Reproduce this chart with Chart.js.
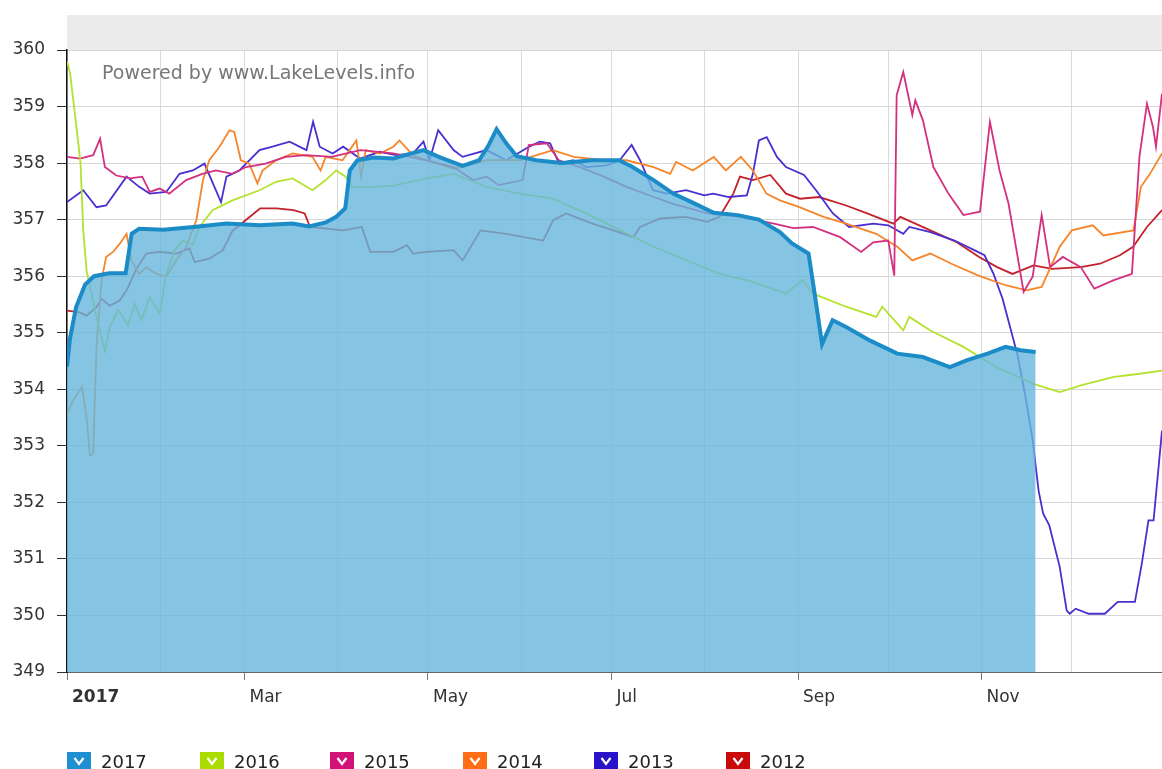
<!DOCTYPE html>
<html>
<head>
<meta charset="utf-8">
<title>Lake level</title>
<script src="https://cdn.jsdelivr.net/npm/chart.js@4/dist/chart.umd.min.js"></script>
<style>
  html, body { margin: 0; padding: 0; background: #fff; }
  #wrap { position: relative; width: 1162px; height: 769px; overflow: hidden; }
  #legend { position: absolute; left: 0; top: 752px; width: 1162px; height: 24px; }
  .item { position: absolute; top: 0; height: 24px; display: flex; align-items: center;
          font: 18px "DejaVu Sans", Verdana, sans-serif; color: #222; }
  .item span { position: relative; top: -3px; }
  .box { width: 24px; height: 24px; margin-right: 10px; display: flex;
         align-items: flex-start; justify-content: center; }
  .box svg { margin-top: 4px; }
</style>
</head>
<body>
<div id="wrap">
  <canvas id="levels" width="1162" height="769"></canvas>
  <div id="legend"></div>
</div>
<script>
// x values are day of year (0 = Jan 1), y values are lake level in feet
const monthStarts = [0, 31, 59, 90, 120, 151, 181, 212, 243, 273, 304, 334];
const monthLabels = ['2017', '', 'Mar', '', 'May', '', 'Jul', '', 'Sep', '', 'Nov', ''];
const yTicks = [349, 350, 351, 352, 353, 354, 355, 356, 357, 358, 359, 360];

const years = ['2017', '2016', '2015', '2014', '2013', '2012'];
const colors = ['#1b8cc8', '#b4e22e', '#d3307f', '#f7852a', '#4a2fd0', '#c4222b'];
const legendColors = ['#1e90d2', '#aadc00', '#d21478', '#ff6e14', '#2814c8', '#c80a0a'];
const legendLeft = [67, 200, 330, 463, 594, 726];

const days2017 = [0, 1, 3, 6, 9, 14, 19.5, 21.5, 24, 32, 42, 53, 64, 75, 80.5, 86, 89.5, 92.5, 94, 96.5,
  102, 108.5, 113, 118.5, 124, 131.5, 137, 140, 142.8, 146, 149.5, 156, 164.5, 174.5, 183.5, 188, 195,
  201.5, 208, 215, 223, 230, 237, 241, 246.5, 248.5, 251, 254.5, 259, 267, 276, 284.5, 293.5, 299,
  306, 312, 317, 322];
const lvl2017 = [354.4, 354.9, 355.45, 355.85, 356.0, 356.05, 356.05, 356.75, 356.84, 356.82, 356.87,
  356.93, 356.9, 356.93, 356.88, 356.95, 357.05, 357.2, 357.87, 358.05, 358.1, 358.08, 358.15, 358.23,
  358.1, 357.95, 358.05, 358.3, 358.6, 358.35, 358.12, 358.05, 358.0, 358.05, 358.05, 357.93, 357.7,
  357.46, 357.3, 357.12, 357.08, 357.0, 356.78, 356.58, 356.4, 355.7, 354.8, 355.22, 355.1, 354.86,
  354.63, 354.57, 354.39, 354.51, 354.63, 354.75, 354.69, 354.66];

const days2016 = [0, 1, 3, 4.5, 5.4, 6.5, 8.2, 9.8, 12.6, 14.2, 17, 20.3, 22.5, 24.7, 27.5, 30.8, 33,
  35.8, 38.5, 41.8, 44, 48.5, 55, 64, 69.5, 75, 81.6, 86, 89.5, 92.6, 94.8, 102.5, 108.5, 119.5,
  128.5, 139.5, 150.5, 161.5, 172.5, 184, 195, 206, 217, 228, 239, 244.5, 248, 259, 269, 271, 278,
  280, 287, 298, 309, 321, 330, 337, 348, 356, 364];
const lvl2016 = [359.8, 359.6, 358.7, 358.0, 356.81, 356.1, 355.69, 355.28, 354.68, 355.1, 355.4,
  355.13, 355.51, 355.22, 355.63, 355.34, 356.04, 356.46, 356.63, 356.55, 356.87, 357.17, 357.34,
  357.52, 357.67, 357.73, 357.52, 357.7, 357.87, 357.76, 357.58, 357.58, 357.6, 357.73, 357.81,
  357.58, 357.46, 357.37, 357.11, 356.81, 356.52, 356.28, 356.04, 355.9, 355.69, 355.93, 355.69,
  355.46, 355.28, 355.46, 355.04, 355.28, 355.04, 354.75, 354.39, 354.1, 353.95, 354.07, 354.22,
  354.27, 354.33];

const days2015 = [0, 4.3, 8.7, 11, 12.6, 16.4, 21, 25, 27.5, 30.8, 34, 39.6, 45, 49.5, 55, 59.5, 66,
  72.7, 79.4, 88, 97.5, 108.5, 119.5, 128.5, 135, 139.5, 143.5, 151.5, 153.5, 159.5, 163.5, 170.5,
  178.5, 186, 195, 201.5, 213, 224, 235, 241.5, 248, 257, 264, 268, 273, 275, 275.8, 278, 281, 282,
  284.5, 288, 293, 298, 303.5, 306.8, 310, 313, 318, 321, 324, 326.8, 331, 337, 341.5, 348, 354,
  356.5, 359, 361, 362, 364];
const lvl2015 = [358.11, 358.08, 358.14, 358.43, 357.93, 357.78, 357.73, 357.76, 357.49, 357.55,
  357.46, 357.7, 357.81, 357.87, 357.81, 357.93, 357.99, 358.11, 358.14, 358.11, 358.23, 358.17,
  358.05, 357.93, 357.7, 357.76, 357.61, 357.7, 358.32, 358.35, 358.05, 357.93, 357.76, 357.58,
  357.4, 357.28, 357.11, 357.05, 356.93, 356.85, 356.87, 356.69, 356.43, 356.6, 356.63, 356.01,
  359.2, 359.61, 358.85, 359.11, 358.76, 357.93, 357.46, 357.08, 357.14, 358.73, 357.87, 357.28,
  355.72, 355.99, 357.08, 356.16, 356.34, 356.16, 355.78, 355.93, 356.04, 358.11, 359.05, 358.64,
  358.29, 359.23];

const days2014 = [0, 2, 5, 6.5, 7.6, 8.7, 9.8, 11.5, 13, 15.3, 17.5, 19.8, 21.4, 24, 26.4, 29.7, 33,
  36.3, 39.6, 43, 45.2, 47.3, 50.7, 54, 55.6, 57.8, 60.6, 63.3, 65, 69.5, 75, 81.6, 84.3, 86, 91.6,
  96.2, 97.8, 99.3, 104, 108.5, 110.5, 115, 119.5, 128.5, 139.5, 150.5, 161.5, 168.5, 178.5, 186,
  195, 200.5, 202.5, 208, 215, 219, 224, 228, 232.5, 237, 243.5, 251.5, 259, 269, 276, 281, 287,
  294, 303, 312, 319, 324, 330, 334, 341, 344.5, 354.5, 357, 360, 364];
const lvl2014 = [353.56, 353.8, 354.04, 353.5, 352.83, 352.86, 354.75, 355.93, 356.34, 356.43,
  356.57, 356.75, 356.28, 356.04, 356.16, 356.04, 355.99, 356.28, 356.52, 356.99, 357.7, 358.05,
  358.29, 358.58, 358.55, 358.05, 357.99, 357.64, 357.87, 358.05, 358.17, 358.11, 357.87, 358.11,
  358.05, 358.4, 357.76, 358.23, 358.17, 358.29, 358.4, 358.14, 358.05, 357.9, 358.05, 358.05,
  358.23, 358.11, 358.05, 358.05, 357.93, 357.81, 358.02, 357.87, 358.11, 357.87, 358.11, 357.87,
  357.46, 357.34, 357.22, 357.05, 356.93, 356.75, 356.52, 356.28, 356.4, 356.22, 356.01, 355.84,
  355.75, 355.81, 356.52, 356.81, 356.9, 356.72, 356.81, 357.58, 357.81, 358.17];

const days2013 = [0, 5.4, 9.8, 13, 19.8, 24, 27.5, 33, 37.4, 41.8, 45.7, 48.5, 51.2, 53, 57.3, 64,
  68.3, 74, 79.6, 81.8, 84, 88.3, 91.8, 97.4, 104, 109.4, 115, 118.5, 120.5, 123.4, 128.5, 131.5,
  139.5, 146, 153.6, 157.2, 160.6, 163.6, 168.2, 172.7, 179.4, 183.7, 187.7, 190.5, 194.8, 199.4,
  205.8, 211.8, 214.8, 220, 226, 228, 230, 232.6, 236, 239, 245, 249, 254.6, 260, 268, 273, 278,
  280, 287, 295, 301.6, 305, 308, 311, 313.5, 316, 318.5, 321, 323, 324.5, 326.5, 330, 332.3, 333.3,
  335.3, 339.6, 345, 349.3, 355, 357.3, 359.5, 361.2, 364];
const lvl2013 = [357.31, 357.52, 357.22, 357.25, 357.76, 357.58, 357.46, 357.49, 357.81, 357.87,
  357.99, 357.64, 357.31, 357.76, 357.87, 358.23, 358.29, 358.38, 358.23, 358.73, 358.29, 358.17,
  358.29, 358.08, 358.2, 358.14, 358.17, 358.38, 358.05, 358.58, 358.23, 358.11, 358.23, 358.05,
  358.29, 358.38, 358.35, 357.99, 358.05, 357.93, 357.96, 358.05, 358.32, 358.05, 357.52, 357.46,
  357.52, 357.43, 357.46, 357.4, 357.43, 357.81, 358.4, 358.46, 358.11, 357.93, 357.79, 357.52,
  357.11, 356.87, 356.93, 356.9, 356.75, 356.87, 356.78, 356.63, 356.46, 356.37, 356.04, 355.6,
  355.1, 354.6, 353.9, 353.1, 352.2, 351.8, 351.6, 350.86, 350.09, 350.03, 350.12, 350.03, 350.03,
  350.24, 350.24, 350.92, 351.68, 351.68, 353.27];

const days2012 = [0, 4.3, 6.5, 9.8, 11.5, 14.2, 17.5, 19.8, 23.1, 26.4, 30.8, 36.3, 40.7, 42.4, 47.3,
  51.8, 55, 60.8, 64.2, 69.7, 75.3, 79, 80.8, 86.3, 91.8, 98, 100.8, 108.5, 113, 115, 119.5, 128.5,
  131.5, 137.5, 146, 158.3, 161.6, 166, 174.7, 181.6, 188.3, 190.5, 197.2, 205.8, 212.8, 216.9,
  221.5, 223.7, 228, 233.8, 239, 243.7, 250, 259, 266, 274.7, 277, 287, 295.8, 303.2, 309.2, 314.3,
  321.3, 327.4, 337, 343.4, 350, 354.4, 359, 364];
const lvl2012 = [355.39, 355.36, 355.3, 355.45, 355.6, 355.48, 355.57, 355.75, 356.13, 356.4, 356.43,
  356.4, 356.49, 356.25, 356.31, 356.46, 356.8, 357.05, 357.2, 357.2, 357.17, 357.11, 356.87,
  356.84, 356.81, 356.87, 356.43, 356.43, 356.55, 356.4, 356.43, 356.46, 356.28, 356.81, 356.75,
  356.63, 356.99, 357.11, 356.93, 356.81, 356.69, 356.87, 357.02, 357.05, 356.96, 357.05, 357.46,
  357.76, 357.7, 357.79, 357.46, 357.37, 357.4, 357.25, 357.11, 356.93, 357.05, 356.81, 356.6,
  356.34, 356.16, 356.04, 356.19, 356.13, 356.16, 356.22, 356.37, 356.52, 356.87, 357.17];

const allDays = [days2017, days2016, days2015, days2014, days2013, days2012];
const allLevels = [lvl2017, lvl2016, lvl2015, lvl2014, lvl2013, lvl2012];

function points(days, levels) {
  return days.map((d, i) => ({ x: d, y: levels[i] }));
}

const datasets = years.map((yr, i) => ({
  label: yr,
  data: points(allDays[i], allLevels[i]),
  borderColor: colors[i],
  borderWidth: i === 0 ? 4 : 1.8,
  pointRadius: 0,
  tension: 0,
  fill: i === 0 ? 'start' : false,
  backgroundColor: i === 0 ? 'rgba(103, 183, 220, 0.8)' : colors[i]
}));

// grey strip above the plot and the watermark text
const decorations = {
  id: 'decorations',
  beforeDraw(chart) {
    const { ctx, chartArea } = chart;
    ctx.save();
    ctx.fillStyle = '#ebebeb';
    ctx.fillRect(chartArea.left, 15, chartArea.right - chartArea.left, chartArea.top - 15);
    ctx.restore();
  },
  beforeDatasetsDraw(chart) {
    const { ctx } = chart;
    ctx.save();
    ctx.fillStyle = '#777';
    ctx.font = '19px "DejaVu Sans", Verdana, sans-serif';
    ctx.textBaseline = 'alphabetic';
    ctx.fillText('Powered by www.LakeLevels.info', 102, 79);
    ctx.restore();
  }
};

const labelFont = { family: '"DejaVu Sans", Verdana, sans-serif', size: 17 };

new Chart(document.getElementById('levels'), {
  type: 'line',
  data: { datasets: datasets },
  options: {
    responsive: false,
    animation: false,
    events: [],
    layout: { padding: { top: 50, right: 0, bottom: 0, left: 0 } },
    plugins: { legend: { display: false }, tooltip: { enabled: false } },
    scales: {
      x: {
        type: 'linear',
        min: 0,
        max: 364,
        afterBuildTicks: s => { s.ticks = monthStarts.map(v => ({ value: v })); },
        afterFit: s => { s.height = 97; },
        ticks: {
          autoSkip: false,
          maxRotation: 0,
          align: 'start',
          labelOffset: 5,
          padding: 7,
          color: '#333',
          font: ctx => ctx.index === 0 ? { ...labelFont, weight: 'bold' } : labelFont,
          callback: (v, i) => monthLabels[i]
        },
        grid: {
          color: '#dadada',
          tickLength: 8,
          tickColor: ctx => monthLabels[ctx.index] ? '#777' : 'rgba(0,0,0,0)'
        },
        border: { color: '#666', width: 1 }
      },
      y: {
        min: 349,
        max: 360,
        afterBuildTicks: s => { s.ticks = yTicks.map(v => ({ value: v })); },
        afterFit: s => { s.width = 67; },
        ticks: { padding: 12, color: '#333', font: labelFont },
        grid: { color: '#d6d6d6', tickLength: 10, tickColor: '#333' },
        border: { color: '#111', width: 1.5 }
      }
    }
  },
  plugins: [decorations]
});

// legend with check boxes
const legend = document.getElementById('legend');
years.forEach((yr, i) => {
  const item = document.createElement('div');
  item.className = 'item';
  item.style.left = legendLeft[i] + 'px';
  item.innerHTML = '<div class="box" style="background:' + legendColors[i] + '">' +
    '<svg width="12" height="10"><polyline points="1.5,2 6,8 10.5,2" fill="none" stroke="#fff" stroke-width="2.2"/></svg>' +
    '</div><span>' + yr + '</span>';
  legend.appendChild(item);
});
</script>
</body>
</html>
